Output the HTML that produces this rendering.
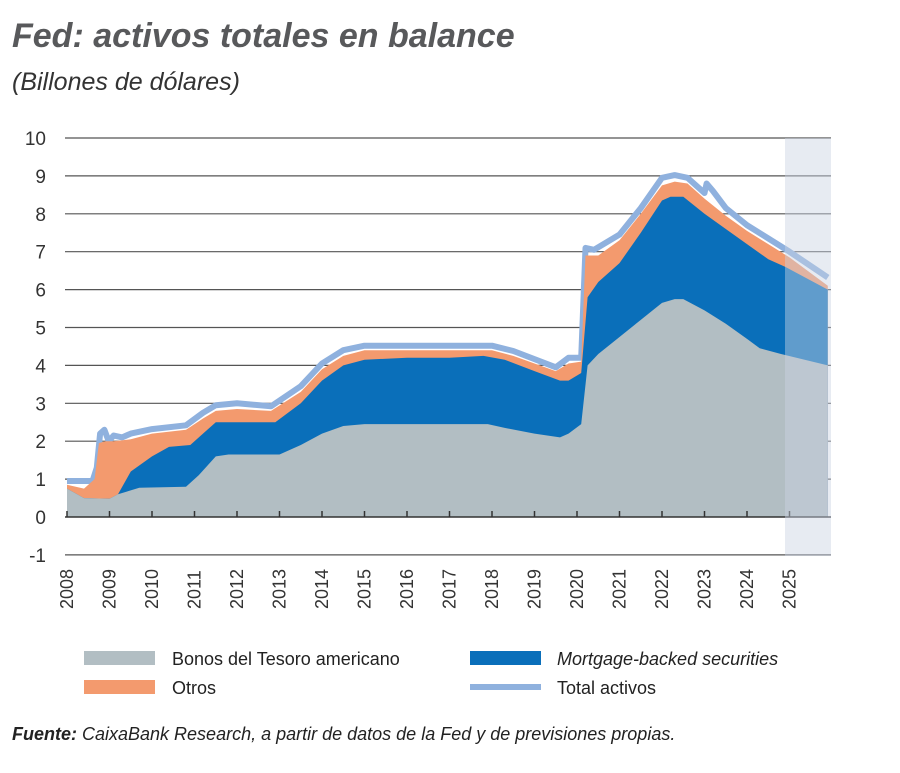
<!DOCTYPE html>
<html><head><meta charset="utf-8"><style>
body{margin:0;background:#fff;width:900px;height:768px;overflow:hidden;font-family:"Liberation Sans",sans-serif}
</style></head><body>
<svg id="s" width="900" height="768" xmlns="http://www.w3.org/2000/svg">
<text x="12" y="47" font-size="34" font-weight="bold" font-style="italic" fill="#58595b">Fed: activos totales en balance</text>
<text x="12" y="90" font-size="25" font-style="italic" fill="#333">(Billones de dólares)</text>
<g id="grid" stroke="#555" stroke-width="1.2"></g>
<g id="areas"></g>
<rect x="785" y="138" width="46" height="418" fill="#c9d3e2" opacity="0.45"/>
<g id="ylab" font-size="19" fill="#333" text-anchor="end"></g>
<g id="xlab" font-size="18" fill="#333"></g>
<rect x="84" y="651" width="71" height="14" fill="#b2bec3"/>
<text x="172" y="665" font-size="18" fill="#222">Bonos del Tesoro americano</text>
<rect x="470" y="651" width="71" height="14" fill="#0a6fba"/>
<text x="557" y="665" font-size="18" font-style="italic" fill="#222">Mortgage-backed securities</text>
<rect x="84" y="680" width="71" height="14" fill="#f39a6e"/>
<text x="172" y="694" font-size="18" fill="#222">Otros</text>
<rect x="470" y="684" width="71" height="6" fill="#8fb1de"/>
<text x="557" y="694" font-size="18" fill="#222">Total activos</text>
<text x="12" y="740" font-size="18" font-style="italic" fill="#222"><tspan font-weight="bold">Fuente:</tspan> CaixaBank Research, a partir de datos de la Fed y de previsiones propias.</text>
</svg>
<script>
var X=function(t){return 67+42.5*(t-2008)},Y=function(v){return 517-37.9*v};
var g=document.getElementById('grid'),yl=document.getElementById('ylab'),xl=document.getElementById('xlab'),ns="http://www.w3.org/2000/svg";
function el(p,tag,a,txt){var e=document.createElementNS(ns,tag);for(var k in a)e.setAttribute(k,a[k]);if(txt!=null)e.textContent=txt;p.appendChild(e);return e}
for(var v=-1;v<=10;v++){if(v!=0)el(g,'line',{x1:65,x2:831,y1:Y(v),y2:Y(v)});el(yl,'text',{x:46,y:Y(v)+7},v)}
var T=[[2008,.75],[2008.4,.5],[2009,.48],[2009.2,.6],[2009.7,.77],[2010.8,.8],[2011.1,1.1],[2011.5,1.6],[2011.8,1.65],[2013,1.65],[2013.5,1.9],[2014,2.2],[2014.5,2.4],[2015,2.45],[2017.9,2.45],[2018.3,2.35],[2019,2.2],[2019.6,2.1],[2019.8,2.2],[2020.1,2.45],[2020.25,4],[2020.5,4.3],[2021,4.75],[2021.5,5.2],[2022,5.65],[2022.3,5.75],[2022.5,5.75],[2023,5.45],[2023.5,5.1],[2024,4.7],[2024.3,4.45],[2024.8,4.3],[2025.9,4]];
var M=[[2008,.75],[2008.4,.5],[2009,.48],[2009.2,.6],[2009.5,1.2],[2010,1.6],[2010.4,1.85],[2010.9,1.9],[2011.2,2.2],[2011.5,2.5],[2012.9,2.5],[2013.5,3],[2014,3.6],[2014.5,4],[2015,4.15],[2016,4.2],[2017,4.2],[2017.8,4.25],[2018.3,4.15],[2019,3.85],[2019.6,3.6],[2019.8,3.6],[2020.1,3.8],[2020.25,5.8],[2020.5,6.2],[2021,6.7],[2021.5,7.5],[2022,8.35],[2022.2,8.45],[2022.5,8.45],[2023,8],[2023.5,7.6],[2024,7.2],[2024.5,6.8],[2024.9,6.6],[2025.9,6]];
var O=[[2008,.85],[2008.4,.75],[2008.65,1],[2008.75,1.95],[2008.9,2],[2009.1,2],[2009.5,2.05],[2010,2.2],[2010.8,2.3],[2011.2,2.6],[2011.5,2.8],[2012,2.85],[2012.8,2.8],[2013.5,3.3],[2014,3.9],[2014.5,4.25],[2015,4.4],[2018,4.4],[2018.5,4.25],[2019.5,3.85],[2019.8,4.05],[2020.1,4.1],[2020.2,6.9],[2020.5,6.9],[2021,7.3],[2021.5,8],[2022,8.75],[2022.3,8.85],[2022.6,8.8],[2023,8.4],[2023.5,7.95],[2024,7.55],[2024.5,7.2],[2025,6.85],[2025.9,6.1]];
var L=[[2008,.95],[2008.6,.95],[2008.7,1.3],[2008.78,2.2],[2008.88,2.3],[2008.98,2],[2009.1,2.15],[2009.3,2.1],[2009.5,2.2],[2010,2.32],[2010.8,2.42],[2011.2,2.75],[2011.5,2.95],[2012,3],[2012.8,2.92],[2013.5,3.45],[2014,4.05],[2014.5,4.4],[2015,4.52],[2018,4.52],[2018.5,4.38],[2019.5,3.95],[2019.8,4.2],[2020.1,4.2],[2020.2,7.1],[2020.4,7.05],[2021,7.45],[2021.5,8.15],[2022,8.95],[2022.3,9.02],[2022.6,8.95],[2023,8.55],[2023.05,8.8],[2023.2,8.6],[2023.5,8.15],[2024,7.7],[2024.5,7.35],[2025,7],[2025.9,6.32]];
function pts(a){return a.map(function(p){return X(p[0]).toFixed(1)+','+Y(p[1]).toFixed(1)})}
function area(a,c){var d='M'+X(a[0][0])+','+Y(0)+' L'+pts(a).join(' L')+' L'+X(a[a.length-1][0])+','+Y(0)+'Z';el(document.getElementById('areas'),'path',{d:d,fill:c})}
var A=document.getElementById('areas');
el(A,'polyline',{points:pts(L).join(' '),fill:'none',stroke:'#8fb1de','stroke-width':6,'stroke-linejoin':'round'});
area(O,'#f39a6e');area(M,'#0a6fba');area(T,'#b2bec3');
el(A,'line',{x1:65,x2:831,y1:Y(0),y2:Y(0),stroke:'#333','stroke-width':1.5});
for(var y=2008;y<=2025;y++){var x=X(y);el(A,'line',{x1:x,x2:x,y1:Y(0),y2:Y(0)-6,stroke:'#333','stroke-width':1.5});
el(xl,'text',{x:0,y:0,transform:'translate('+(x+6)+',609) rotate(-90)'},y)}
</script>
</body></html>
